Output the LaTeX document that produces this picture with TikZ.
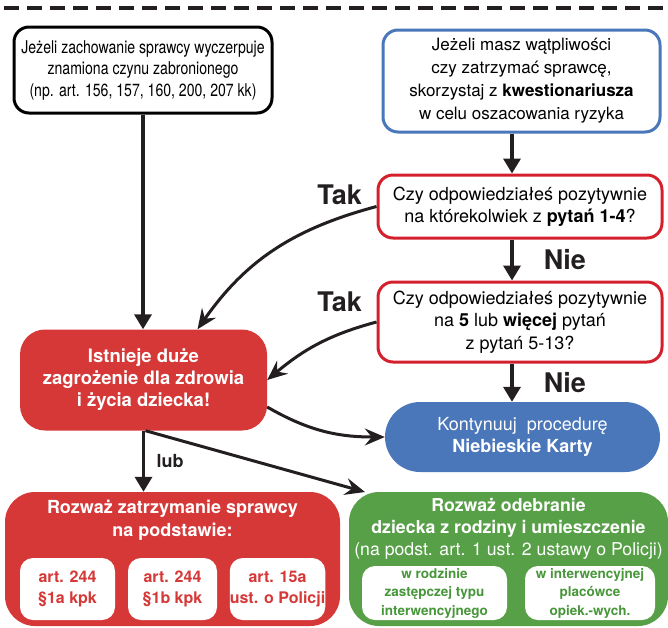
\documentclass[tikz,border=0pt]{standalone}
\usepackage{fontspec}
\setmainfont{TeX Gyre Heros}
\newfontfamily\narrowfont{TeX Gyre Heros}[FakeStretch=0.8]
\usetikzlibrary{arrows.meta}

\definecolor{kred}{RGB}{214,56,56}
\definecolor{kredline}{RGB}{212,32,44}
\definecolor{kblue}{RGB}{74,118,186}
\definecolor{kgreen}{RGB}{88,160,72}
\definecolor{kgreentext}{RGB}{72,150,58}
\definecolor{kdark}{RGB}{35,31,32}

\begin{document}
\begin{tikzpicture}[x=1pt,y=-1pt,
    txt/.style={align=center, inner sep=0pt, font=\fontsize{18}{22.5}\selectfont},
    box/.style={txt, draw, line width=3pt, rounded corners=15pt},
    solidbox/.style={txt, rounded corners=25pt, text=white},
    whitebox/.style={txt, fill=white, rounded corners=13pt, font=\fontsize{16}{21}\selectfont\bfseries},
    answer/.style={kdark, inner sep=0pt, font=\fontsize{27}{27}\selectfont\bfseries},
    straight/.style={kdark, line width=3.5pt, -{Triangle[length=15pt,width=17pt]}},
    curved/.style={kdark, line width=3pt, -{Stealth[length=20pt,width=17pt,inset=7pt]}}]
    \useasboundingbox (0,0) rectangle (668,627);
    \draw[kdark, line width=4pt, dash pattern=on 15pt off 8pt] (4,8) -- (668,8); % top line

    % top boxes
    \node[box, minimum width=258pt, minimum height=86pt, font=\narrowfont\fontsize{17.6}{21.5}\selectfont] (sprawca) at (143,70)
        {Jeżeli zachowanie sprawcy wyczerpuje\\ znamiona czynu zabronionego\\ (np. art. 156, 157, 160, 200, 207 kk)};
    \node[box, draw=kblue, minimum width=277pt, minimum height=102pt, font=\fontsize{17}{23}\selectfont] (watpliwosci) at (521.5,81)
        {Jeżeli masz wątpliwości\\ czy zatrzymać sprawcę,\\ skorzystaj z \textbf{kwestionariusza}\\ w celu oszacowania ryzyka};

    % questions
    \node[box, draw=kredline, minimum width=284pt, minimum height=63pt] (pytanie1) at (520,206.5)
        {Czy odpowiedziałeś pozytywnie\\ na którekolwiek z \textbf{pytań 1-4}?};
    \node[box, draw=kredline, minimum width=284pt, minimum height=80pt] (pytanie2) at (520,322)
        {Czy odpowiedziałeś pozytywnie\\ na \textbf{5} lub \textbf{więcej} pytań\\ z pytań 5-13?};
    \node[solidbox, fill=kblue, rounded corners=35pt, minimum width=275pt, minimum height=70pt, font=\fontsize{18}{22}\selectfont] (procedura) at (522.5,437)
        {Kontynuuj\ \ procedurę\\ \textbf{Niebieskie Karty}};
    \node[solidbox, fill=kred, minimum width=247pt, minimum height=101pt, font=\fontsize{18.5}{22}\selectfont\bfseries] (zagrozenie) at (143.5,380)
        {Istnieje duże\\ zagrożenie dla zdrowia\\ i życia dziecka!};

    % bottom boxes
    \node[solidbox, fill=kred, rounded corners=30pt, minimum width=335pt, minimum height=134pt] (zatrzymanie) at (172.5,559) {};
    \node[txt, text=white, font=\fontsize{18}{23}\selectfont\bfseries, anchor=north] (zatrzymanie-t) at (172.5,500)
        {Rozważ zatrzymanie sprawcy\\ na podstawie:};
    \node[whitebox, text=kred, minimum width=95pt, minimum height=62pt] (art1a) at (67.5,589) {art. 244\\ §1a kpk};
    \node[whitebox, text=kred, minimum width=89pt, minimum height=62pt] (art1b) at (172.5,589) {art. 244\\ §1b kpk};
    \node[whitebox, text=kred, minimum width=95pt, minimum height=62pt] (art15a) at (277.5,589) {art. 15a\\ ust. o Policji};

    \node[solidbox, fill=kgreen, rounded corners=30pt, minimum width=319pt, minimum height=134pt] (odebranie) at (508.5,559) {};
    \node[txt, text=white, font=\fontsize{17.7}{22}\selectfont, anchor=north] (odebranie-t) at (508.5,498)
        {\textbf{Rozważ odebranie}\\ \textbf{dziecka z rodziny i umieszczenie}\\ (na podst. art. 1 ust. 2 ustawy o Policji)};
    \node[whitebox, text=kgreentext, minimum width=145pt, minimum height=54pt, font=\fontsize{13.5}{18.5}\selectfont\bfseries] (rodzina) at (434.5,593)
        {w rodzinie\\ zastępczej typu\\ interwencyjnego};
    \node[whitebox, text=kgreentext, minimum width=130pt, minimum height=54pt, font=\fontsize{13.5}{18.5}\selectfont\bfseries] (placowka) at (590,593)
        {w interwencyjnej\\ placówce\\ opiek.-wych.};

    % connectors
    \coordinate (pion) at (512,0);
    \draw[straight] (sprawca.south) -- (sprawca.south |- zagrozenie.north);
    \draw[straight] (watpliwosci.south -| pion) -- (pytanie1.north -| pion);
    \draw[straight] (pytanie1.south -| pion) -- node[answer, right=30pt] {Nie} (pytanie2.north -| pion);
    \draw[straight] (pytanie2.south -| pion) -- node[answer, right=30pt] {Nie} (procedura.north -| pion);
    \draw[curved] (pytanie1.west) to[out=195, in=55] ([xshift=54pt]zagrozenie.north);
    \draw[curved] (pytanie2.west) to[out=195, in=40] (zagrozenie.east);
    \draw[curved] ([yshift=-27pt]zagrozenie.east) to[out=-30, in=180] (procedura.west);
    \draw[straight] (zagrozenie.south) -- node[right=8pt, kdark, font=\fontsize{18}{18}\selectfont\bfseries] {lub} (zagrozenie.south |- zatrzymanie.north);
    \draw[curved] ([xshift=2pt]zagrozenie.south) -- (365,492);
    \node[answer, anchor=east] (tak1) at (362,195) {Tak};
    \node[answer, anchor=east] (tak2) at (362,302) {Tak};
\end{tikzpicture}
\end{document}
